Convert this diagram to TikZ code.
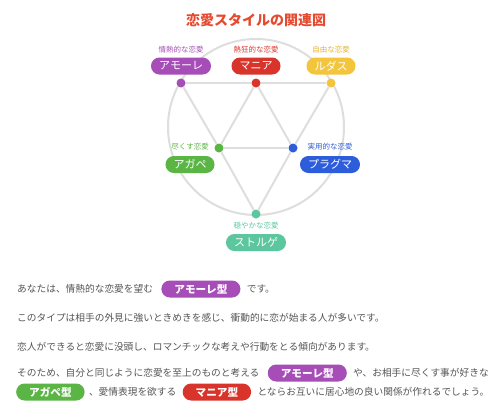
\documentclass[tikz,border=0pt]{standalone}
\usepackage{fontspec}
\setmainfont{Noto Sans CJK JP}
\usetikzlibrary{positioning}
\definecolor{eros}{HTML}{A64DB8}
\definecolor{mania}{HTML}{D9342B}
\definecolor{ludus}{HTML}{F2C53D}
\definecolor{luduslbl}{HTML}{E8B22E}
\definecolor{agape}{HTML}{5AB545}
\definecolor{pragma}{HTML}{2D5DDB}
\definecolor{storge}{HTML}{5CC79E}
\definecolor{titlered}{HTML}{E64A2E}
\definecolor{linegray}{HTML}{DEDEDE}
\definecolor{bodygray}{HTML}{555555}
\tikzset{
  pill/.style={rectangle, rounded corners=8.4pt, fill=#1, text=white, inner xsep=8pt, inner ysep=0pt,
    minimum height=17pt, font=\fontsize{11}{11}\selectfont},
  smalllbl/.style={text=#1, font=\fontsize{7.5}{7.5}\selectfont, inner sep=0pt},
  nodedot/.style={circle, fill=#1, inner sep=0pt, minimum size=9pt},
  link/.style={draw=linegray, line width=2pt},
  body/.style={text=bodygray, font=\fontsize{9.7}{9.7}\selectfont, inner sep=0pt, anchor=west},
  typetag/.style={rectangle, rounded corners=8.4pt, fill=#1, text=white, inner xsep=13pt, inner ysep=0pt,
    minimum height=17pt, font=\fontsize{10.6}{10.6}\selectfont\bfseries}
}
\begin{document}
\begin{tikzpicture}[x=1pt,y=-1pt]
\useasboundingbox[fill=white] (0,0) rectangle (500,408);
% title
\node[text=titlered, font=\fontsize{14}{14}\selectfont\bfseries] (title) at (256,20) {恋愛スタイルの関連図};
% circle
\draw[link] (256,127) circle[radius=88pt];
% dots
\node[nodedot=eros] (de) at (181,83) {};
\node[nodedot=mania] (dm) at (256,83) {};
\node[nodedot=ludus] (dl) at (331,83) {};
\node[nodedot=agape] (da) at (219,148) {};
\node[nodedot=pragma] (dp) at (293,148) {};
\node[nodedot=storge] (ds) at (256,214) {};
% lines
\draw[link] (de) -- (dm);
\draw[link] (dm) -- (dl);
\draw[link] (de) -- (da);
\draw[link] (da) -- (ds);
\draw[link] (dl) -- (dp);
\draw[link] (dp) -- (ds);
\draw[link] (dm) -- (da);
\draw[link] (dm) -- (dp);
\draw[link] (da) -- (dp);
% labels and pills
\node[smalllbl=eros] (le) at (181,50) {情熱的な恋愛};
\node[pill=eros] (pe) at (181,66) {アモーレ};
\node[smalllbl=mania] (lm) at (256,50) {熱狂的な恋愛};
\node[pill=mania] (pm) at (256,66) {マニア};
\node[smalllbl=luduslbl] (ll) at (331,50) {自由な恋愛};
\node[pill=ludus] (pl) at (331,66) {ルダス};
\node[smalllbl=agape] (la) at (190,147) {尽くす恋愛};
\node[pill=agape] (pa) at (190,164.5) {アガペ};
\node[smalllbl=pragma] (lp) at (330,147) {実用的な恋愛};
\node[pill=pragma] (pp) at (330,164.5) {プラグマ};
\node[smalllbl=storge] (ls) at (256,226) {穏やかな恋愛};
\node[pill=storge] (ps) at (256,242.5) {ストルゲ};
% body text
\node[body] (t1a) at (17,289) {あなたは、情熱的な恋愛を望む};
\node[typetag=eros, right=8pt of t1a] (t1b) {アモーレ型};
\node[body, right=6pt of t1b] (t1c) {です。};
\node[body] (t2) at (17,318) {このタイプは相手の外見に強いときめきを感じ、衝動的に恋が始まる人が多いです。};
\node[body] (t3) at (17,347) {恋人ができると恋愛に没頭し、ロマンチックな考えや行動をとる傾向があります。};
\node[body] (t4a) at (17,373) {そのため、自分と同じように恋愛を至上のものと考える};
\node[typetag=eros, right=8pt of t4a] (t4b) {アモーレ型};
\node[body, right=6pt of t4b] (t4c) {や、お相手に尽くす事が好きな};
\node[typetag=agape, anchor=west] (t5a) at (16,392) {アガペ型};
\node[body, right=4pt of t5a] (t5b) {、愛情表現を欲する};
\node[typetag=mania, right=6pt of t5b] (t5c) {マニア型};
\node[body, right=6pt of t5c] (t5d) {とならお互いに居心地の良い関係が作れるでしょう。};
\end{tikzpicture}
\end{document}
